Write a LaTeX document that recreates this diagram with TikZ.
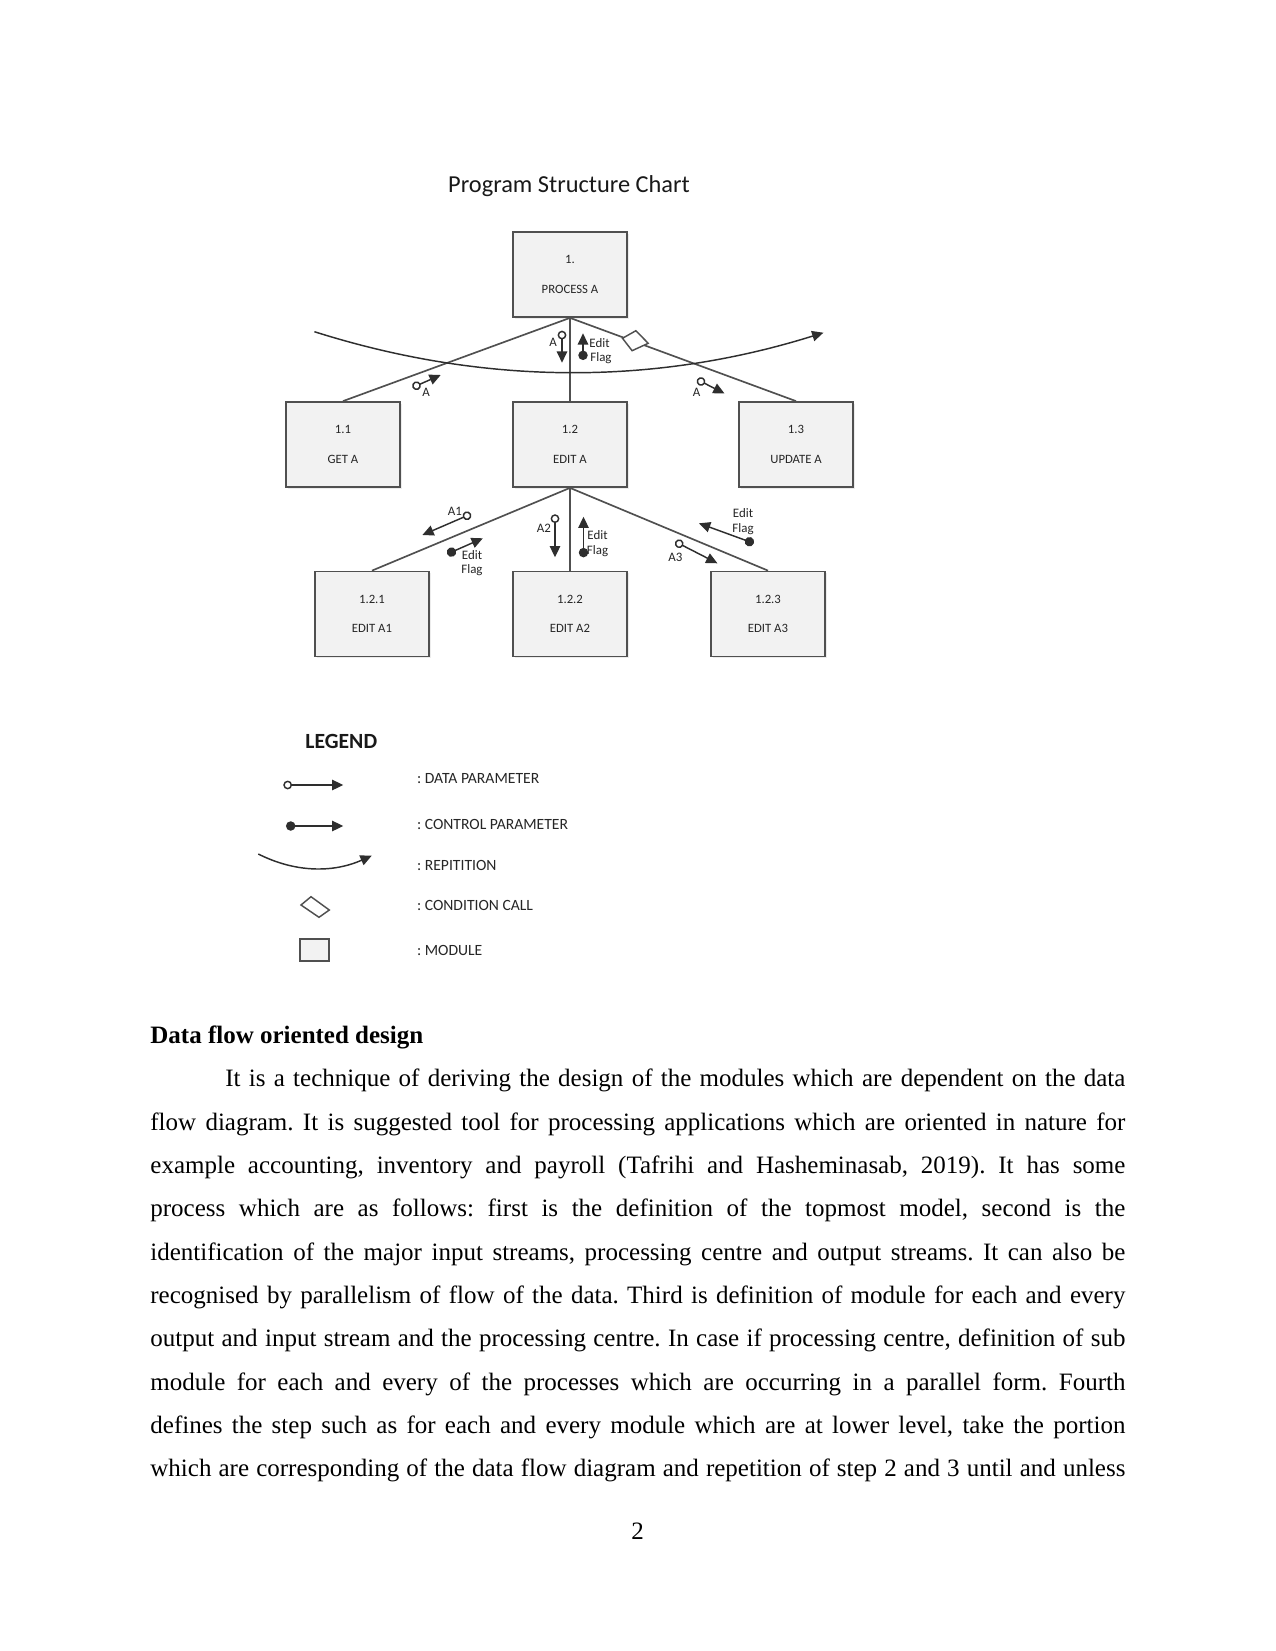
\documentclass[tikz,border=0pt]{standalone}
\usepackage{fontspec}
\setmainfont{Liberation Serif}
\newfontfamily\calib{Carlito}
\usetikzlibrary{arrows.meta,shadows}
\definecolor{ink}{HTML}{2E2E2E}
\definecolor{boxline}{HTML}{505050}
\definecolor{boxfill}{HTML}{F2F2F2}
\definecolor{txt}{HTML}{262626}
\frenchspacing
\begin{document}
\begin{tikzpicture}[x=0.48pt,y=-0.48pt,
 module/.style={draw=boxline, fill=boxfill, line width=0.85pt, minimum width=54.7pt, minimum height=40.8pt, inner sep=0pt, align=center, text=txt, font=\calib\fontsize{6.1}{14.1}\selectfont, drop shadow={opacity=0.15, shadow xshift=0.8pt, shadow yshift=-0.8pt}},
 link/.style={draw=boxline, line width=0.8pt},
 dataflow/.style={draw=ink, line width=0.7pt, {Circle[open, length=4.2pt, width=4.2pt]}-{Triangle[length=5.4pt, width=5pt]}},
 ctrlflow/.style={draw=ink, line width=0.7pt, {Circle[length=4.5pt, width=4.5pt]}-{Triangle[length=5.4pt, width=5pt]}},
 rep/.style={draw=ink, line width=0.7pt, -{Triangle[length=5.4pt, width=5pt]}},
 cond/.style={draw=boxline, fill=white, line width=0.7pt},
 flaglbl/.style={font=\calib\fontsize{6.2}{7}\selectfont, text=txt, inner sep=0pt},
 legtxt/.style={font=\calib\fontsize{7.5}{9}\selectfont, text=txt, anchor=base west, inner sep=0pt},
 body/.style={anchor=base west, inner sep=0pt, font=\fontsize{12}{14}\selectfont},
]
\useasboundingbox (0,0) rectangle (1275,1651);
\fill[white] (0,0) rectangle (1275,1651);

% title
\node[font=\calib\fontsize{11.7}{14}\selectfont, text=black!90, anchor=base, inner sep=0pt] (title) at (569,193) {Program Structure Chart};

% modules
\node[module] (p1) at (570,274.5) {1.\\PROCESS A};
\node[module] (p11) at (343,444.5) {1.1\\GET A};
\node[module] (p12) at (570,444.5) {1.2\\EDIT A};
\node[module] (p13) at (796,444.5) {1.3\\UPDATE A};
\node[module] (p121) at (372,614) {1.2.1\\EDIT A1};
\node[module] (p122) at (570,614) {1.2.2\\EDIT A2};
\node[module] (p123) at (768,614) {1.2.3\\EDIT A3};

% links
\draw[link] (p1.south) -- (p11.north);
\draw[link] (p1.south) -- (p12.north);
\draw[link] (p1.south) -- (p13.north);
\draw[link] (p12.south) -- (p121.north);
\draw[link] (p12.south) -- (p122.north);
\draw[link] (p12.south) -- (p123.north);

% repetition arc
\coordinate (r0) at (314.4,331.7);
\coordinate (r1) at (823.4,332.7);
\draw[rep] (r0) .. controls (484.1,385.5) and (653.8,385.8) .. (r1);

% condition call diamond
\coordinate (cc) at (634.7,340.7);
\draw[cond] (cc) +(-12.2,-2.4) -- +(1.2,-10) -- +(13.5,2.6) -- +(-2.6,10) -- cycle;

% flags level 1
\coordinate (a1s) at (412.5,387.5); \coordinate (a1e) at (440.7,375);
\draw[dataflow] (a1s) -- (a1e);
\node[flaglbl] (la1) at (426,392) {A};

\coordinate (a2s) at (562,330.7); \coordinate (a2e) at (562,362.7);
\draw[dataflow] (a2s) -- (a2e);
\node[flaglbl] (la2) at (553,342.7) {A};

\coordinate (f1s) at (583,360); \coordinate (f1e) at (583,333.3);
\draw[ctrlflow] (f1s) -- (f1e);
\node[flaglbl, anchor=west] (lf1a) at (589,343.3) {Edit};
\node[flaglbl, anchor=west] (lf1b) at (590,358.5) {Flag};

\coordinate (a3s) at (697.1,379.5); \coordinate (a3e) at (724.5,393.5);
\draw[dataflow] (a3s) -- (a3e);
\node[flaglbl] (la3) at (696.5,392) {A};

% flags level 2
\coordinate (b1s) at (471,514); \coordinate (b1e) at (422.4,535);
\draw[dataflow] (b1s) -- (b1e);
\node[flaglbl] (lb1) at (455,511.5) {A1};

\coordinate (g1s) at (447.2,554); \coordinate (g1e) at (482.8,538.3);
\draw[ctrlflow] (g1s) -- (g1e);
\node[flaglbl] (lg1a) at (472,555) {Edit};
\node[flaglbl] (lg1b) at (472,570) {Flag};

\coordinate (b2s) at (555,514.3); \coordinate (b2e) at (555,557.3);
\draw[dataflow] (b2s) -- (b2e);
\node[flaglbl] (lb2) at (544,528.3) {A2};

\coordinate (g2s) at (583.5,557.3); \coordinate (g2e) at (583.5,516.7);
\draw[ctrlflow] (g2s) -- (g2e);
\node[flaglbl] (lg2a) at (597.5,535.3) {Edit};
\node[flaglbl] (lg2b) at (597.5,551) {Flag};

\coordinate (g3s) at (753.8,543.3); \coordinate (g3e) at (699,523.3);
\draw[ctrlflow] (g3s) -- (g3e);
\node[flaglbl] (lg3a) at (743,513.3) {Edit};
\node[flaglbl] (lg3b) at (743,529.3) {Flag};

\coordinate (b3s) at (675.3,541.7); \coordinate (b3e) at (717.4,563.3);
\draw[dataflow] (b3s) -- (b3e);
\node[flaglbl] (lb3) at (675.3,557.3) {A3};

% legend
\node[font=\calib\bfseries\fontsize{10.4}{12}\selectfont, text=black!90, anchor=base west, inner sep=0pt] (leg) at (305,748.3) {LEGEND};
\coordinate (ld1) at (283.3,785); \coordinate (ld2) at (343.3,785);
\draw[dataflow] (ld1) -- (ld2);
\node[legtxt] (lt1) at (416.7,783.3) {: DATA PARAMETER};
\coordinate (lc1) at (286,826); \coordinate (lc2) at (343.3,826);
\draw[ctrlflow] (lc1) -- (lc2);
\node[legtxt] (lt2) at (416.7,829.3) {: CONTROL PARAMETER};
\coordinate (lr1) at (258.3,854); \coordinate (lr2) at (371.7,855.7);
\draw[rep] (lr1) .. controls (295,872.5) and (332.6,873.1) .. (lr2);
\node[legtxt] (lt3) at (416.7,870) {: REPITITION};
\coordinate (ldc) at (315,907);
\draw[cond] (ldc) +(-14,-2) -- +(-4,-10.3) -- +(14.3,3) -- +(4,10.3) -- cycle;
\node[legtxt] (lt4) at (416.7,910.7) {: CONDITION CALL};
\draw[draw=boxline, fill=boxfill, line width=0.85pt] (300,939) rectangle (329.3,960.7);
\node[legtxt] (lt5) at (416.7,955) {: MODULE};

% body text
\node[body] (h) at (150,1043.3) {\bfseries Data flow oriented design};
\node[body] (t1) at (225,1086.7) {\makebox[432pt][s]{It is a technique of deriving the design of the modules which are dependent on the data}};
\node[body] (t2) at (150,1130) {\makebox[468pt][s]{flow diagram. It is suggested tool for processing applications which are oriented in nature for}};
\node[body] (t3) at (150,1173.3) {\makebox[468pt][s]{example accounting, inventory and payroll (Tafrihi and Hasheminasab, 2019). It has some}};
\node[body] (t4) at (150,1216.7) {\makebox[468pt][s]{process which are as follows: first is the definition of the topmost model, second is the}};
\node[body] (t5) at (150,1260) {\makebox[468pt][s]{identification of the major input streams, processing centre and output streams. It can also be}};
\node[body] (t6) at (150,1303.3) {\makebox[468pt][s]{recognised by parallelism of flow of the data. Third is definition of module for each and every}};
\node[body] (t7) at (150,1346.7) {\makebox[468pt][s]{output and input stream and the processing centre. In case if processing centre, definition of sub}};
\node[body] (t8) at (150,1390) {\makebox[468pt][s]{module for each and every of the processes which are occurring in a parallel form. Fourth}};
\node[body] (t9) at (150,1433.3) {\makebox[468pt][s]{defines the step such as for each and every module which are at lower level, take the portion}};
\node[body] (t10) at (150,1476.7) {\makebox[468pt][s]{which are corresponding of the data flow diagram and repetition of step 2 and 3 until and unless}};
\node[body, anchor=base] (pn) at (637.5,1539.3) {2};
\end{tikzpicture}
\end{document}
